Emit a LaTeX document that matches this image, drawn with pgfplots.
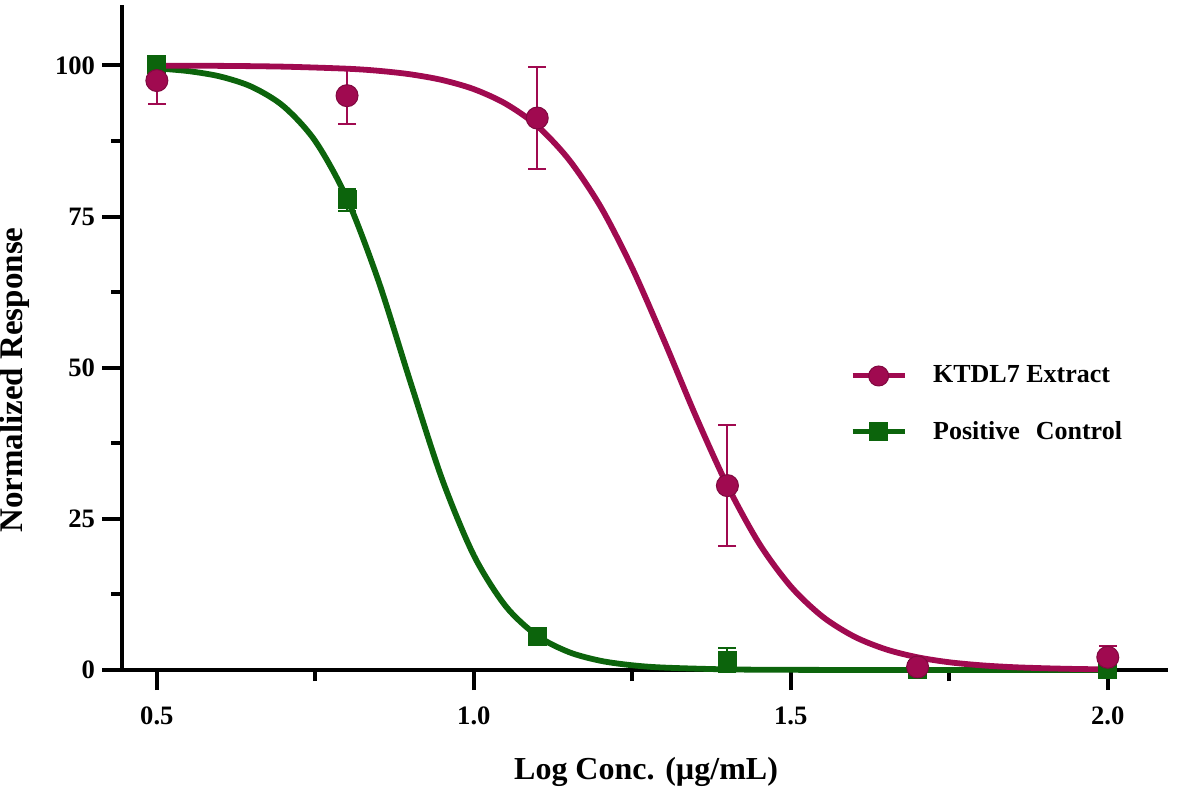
\documentclass[border=0pt]{standalone}
\usepackage{fontspec}
\setmainfont{Liberation Serif}
\usepackage{pgfplots}
\pgfplotsset{compat=1.18}
\definecolor{mag}{RGB}{160,10,80}
\definecolor{grn}{RGB}{12,100,12}

\pgfplotstableread{
x     y
0.50  99.97
0.60  99.93
0.70  99.80
0.80  99.46
0.85  99.11
0.90  98.53
0.95  97.59
1.00  96.08
1.05  93.68
1.10  90.00
1.15  84.42
1.20  76.63
1.25  66.45
1.30  54.52
1.35  42.02
1.40  30.49
1.45  20.94
1.50  13.81
1.55  8.83
1.60  5.53
1.65  3.42
1.70  2.10
1.75  1.28
1.80  0.78
1.85  0.47
1.90  0.29
1.95  0.17
2.00  0.10
}\curveK

\pgfplotstableread{
x     y
0.50  99.52
0.55  99.06
0.60  98.17
0.65  96.45
0.70  93.23
0.75  87.47
0.80  77.96
0.85  64.22
0.90  47.62
0.95  31.55
1.00  18.95
1.05  10.59
1.10  5.67
1.15  2.96
1.20  1.52
1.25  0.78
1.30  0.40
1.40  0.10
1.50  0.03
1.60  0.01
1.80  0.00
2.00  0.00
}\curveP

\pgfplotstableread{
x    y     e
0.5  97.5  3.8
0.8  95.0  4.7
1.1  91.3  8.5
1.4  30.5  10.0
1.7  0.5   0.0
2.0  2.1   1.8
}\ptsK

\pgfplotstableread{
x    y     e
0.5  100.2 1.2
0.8  77.8  1.8
1.1  5.6   0.5
1.4  1.6   2.0
1.7  0.1   0.0
2.0  0.1   0.0
}\ptsP

\begin{document}
\begin{tikzpicture}
\begin{axis}[
  scale only axis, width=523pt, height=332.5pt,
  xmin=0.445, xmax=2.095, ymin=0, ymax=110,
  clip=false,
  axis x line*=bottom, axis y line*=left,
  axis line style={line width=2pt, -},
  xtick={0.5,1,1.5,2}, minor xtick={0.75,1.25,1.75},
  ytick={0,25,50,75,100}, minor ytick={12.5,37.5,62.5,87.5},
  tick align=outside, major tick length=10pt, minor tick length=5.5pt,
  tick style={black, line width=2pt},
  /pgf/number format/assume math mode=true,
  ticklabel style={font=\bfseries\fontsize{13.3}{15}\selectfont},
  xticklabel style={yshift=-5pt, /pgf/number format/.cd, fixed, fixed zerofill, precision=1},
  xlabel={Log Conc. (µg/mL)},
  ylabel={Normalized Response},
  label style={font=\bfseries\fontsize{16}{18}\selectfont},
  xlabel style={at={(axis description cs:0.501,-0.1534)}, anchor=center},
  ylabel style={at={(axis description cs:-0.1023,0.436)}, anchor=center, font=\bfseries\fontsize{16.5}{18}\selectfont},
  legend style={draw=none, fill=none, at={(0.69,0.40)}, anchor=west,
    font=\bfseries\fontsize{13}{15}\selectfont, row sep=13.5pt,
    /tikz/every odd column/.append style={column sep=11pt}},
  legend cell align=left,
  legend image code/.code={\draw[mark repeat=2,mark phase=2,#1] plot coordinates {(0pt,0pt) (13pt,0pt) (26pt,0pt)};},
]
\addlegendimage{mag, line width=2.5pt, mark=*, mark size=5pt, mark options={solid, fill=mag, draw=mag!80!black, line width=0.5pt}}
\addlegendentry{KTDL7 Extract}
\addlegendimage{grn, line width=2.5pt, mark=square*, mark size=4.5pt, mark options={solid, fill=grn, draw=grn, line width=0.5pt}}
\addlegendentry{Positive\hspace{8pt}Control}

\addplot[grn, line width=2.9pt, smooth, forget plot] table[x=x,y=y]{\curveP};
\addplot[only marks, mark=square*, mark size=4.5pt, mark options={fill=grn, draw=grn, line width=0.5pt}, forget plot,
  error bars/.cd, y dir=both, y explicit,
  error bar style={grn, line width=1pt},
  error mark options={grn, rotate=90, mark size=4.5pt, line width=1pt}]
  table[x=x,y=y,y error=e]{\ptsP};
\addplot[mag, line width=2.9pt, smooth, forget plot] table[x=x,y=y]{\curveK};
\addplot[only marks, mark=*, mark size=5.5pt, mark options={fill=mag, draw=mag!80!black, line width=0.5pt}, forget plot,
  error bars/.cd, y dir=both, y explicit,
  error bar style={mag, line width=1pt},
  error mark options={mag, rotate=90, mark size=4.5pt, line width=1pt}]
  table[x=x,y=y,y error=e]{\ptsK};
\end{axis}
\pgfresetboundingbox
\path[use as bounding box] (-61pt,-60.5pt) rectangle (529.5pt,335pt);
\end{tikzpicture}
\end{document}
